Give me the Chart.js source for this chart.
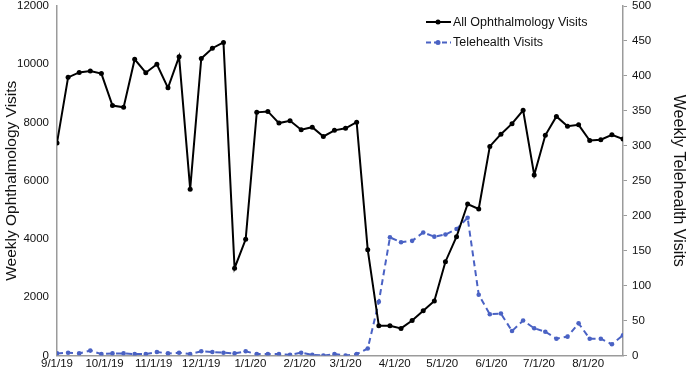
<!DOCTYPE html>
<html lang="en">
<head>
  <meta charset="UTF-8">
  <title>Weekly Ophthalmology and Telehealth Visits</title>
  <script src="https://cdn.jsdelivr.net/npm/chart.js"></script>
  <style>
    html, body { margin: 0; padding: 0; background: white; }
    #chartContainer { width: 688px; height: 372px; }
  </style>
</head>
<body>
  <div id="chartContainer">
    <canvas id="chart"></canvas>
  </div>

  <script>
    // weekly data, first week starts 9/1/19
    const firstWeek = '9/1/19';
    const ophthalmologyVisits = [
      7300, 9550, 9720, 9770, 9680, 8580, 8520, 10170, 9710, 10000,
      9190, 10260, 5710, 10200, 10550, 10750, 3000, 3990, 8350, 8380,
      7980, 8060, 7750, 7840, 7520, 7730, 7800, 8010, 3630, 1020,
      1020, 930, 1200, 1540, 1870, 3220, 4080, 5200, 5030, 7180,
      7600, 7960, 8420, 6200, 7560, 8210, 7870, 7920, 7380, 7410,
      7580, 7430
    ];
    const telehealthVisits = [
      3, 4, 3, 7, 2, 3, 3, 2, 2, 5,
      3, 4, 2, 6, 5, 4, 3, 6, 2, 2,
      2, 1, 4, 1, 0, 2, 0, 2, 10, 77,
      169, 162, 164, 176, 170, 173, 181, 197, 87, 59,
      60, 35, 50, 39, 34, 24, 27, 46, 24, 24,
      16, 29
    ];
    const monthTicks = ['9/1/19', '10/1/19', '11/1/19', '12/1/19', '1/1/20', '2/1/20',
                        '3/1/20', '4/1/20', '5/1/20', '6/1/20', '7/1/20', '8/1/20'];
    const legendLabels = ['All Ophthalmology Visits', 'Telehealth Visits'];

    const FONT = "'Liberation Sans', Arial, Helvetica, sans-serif";
    const BLUE = '#4a62c4';
    const AXIS_GREY = '#9b9b9b';

    function parseMDY(s) {
      const [m, d, y] = s.split('/').map(Number);
      return Date.UTC(2000 + y, m - 1, d);
    }
    const origin = parseMDY(firstWeek);
    const daysFromStart = s => Math.round((parseMDY(s) - origin) / 86400000);
    const tickDays = monthTicks.map(daysFromStart);
    const weekDay = i => i * 7;
    const lastDay = weekDay(ophthalmologyVisits.length - 1);

    const ophData = ophthalmologyVisits.map((v, i) => ({ x: weekDay(i), y: v }));
    const teleData = telehealthVisits.map((v, i) => ({ x: weekDay(i), y: v }));

    // legend drawn inside the plot, top right
    const innerLegend = {
      id: 'innerLegend',
      afterDraw(chart) {
        const { ctx, chartArea } = chart;
        const x0 = chartArea.right - 197;
        const rows = [
          { y: chartArea.top + 16, color: 'black', dash: [], label: legendLabels[0] },
          { y: chartArea.top + 36.5, color: BLUE, dash: [5, 3], label: legendLabels[1] }
        ];
        ctx.save();
        rows.forEach(r => {
          ctx.strokeStyle = r.color;
          ctx.fillStyle = r.color;
          ctx.lineWidth = 2;
          ctx.setLineDash(r.dash);
          ctx.beginPath();
          ctx.moveTo(x0, r.y);
          ctx.lineTo(x0 + 25, r.y);
          ctx.stroke();
          ctx.setLineDash([]);
          ctx.beginPath();
          ctx.arc(x0 + 12, r.y, 2.5, 0, Math.PI * 2);
          ctx.fill();
          ctx.fillStyle = '#111';
          ctx.font = '12.5px ' + FONT;
          ctx.textBaseline = 'middle';
          ctx.fillText(r.label, x0 + 27, r.y + 0.5);
        });
        ctx.restore();
      }
    };

    // keep the top tick labels from pushing the plot down
    const noTopPad = scale => { scale.paddingTop = 0; };

    const ctx = document.getElementById('chart').getContext('2d');
    const chart = new Chart(ctx, {
      type: 'line',
      data: {
        datasets: [
          {
            label: legendLabels[0],
            data: ophData,
            yAxisID: 'y',
            borderColor: 'black',
            backgroundColor: 'black',
            borderWidth: 2,
            pointRadius: 2.5,
            pointBorderWidth: 0,
            fill: false,
            tension: 0
          },
          {
            label: legendLabels[1],
            data: teleData,
            yAxisID: 'y2',
            borderColor: BLUE,
            backgroundColor: BLUE,
            borderWidth: 2,
            borderDash: [6, 4],
            pointRadius: 2.3,
            pointBorderWidth: 0,
            fill: false,
            tension: 0
          }
        ]
      },
      options: {
        responsive: true,
        maintainAspectRatio: false,
        animation: false,
        layout: { padding: { top: 6, left: 0, right: 0, bottom: 0 } },
        plugins: {
          legend: { display: false },
          tooltip: { enabled: false }
        },
        scales: {
          x: {
            type: 'linear',
            min: 0,
            max: lastDay,
            grid: { display: false, drawTicks: false },
            border: { display: true, color: AXIS_GREY, width: 1.5 },
            afterBuildTicks: scale => {
              scale.ticks = tickDays.map(v => ({ value: v }));
            },
            afterFit: scale => { scale.height = 16.5; },
            ticks: {
              autoSkip: false,
              maxRotation: 0,
              padding: 1,
              color: '#111',
              font: { family: FONT, size: 11.5 },
              callback: v => monthTicks[tickDays.indexOf(v)] ?? ''
            }
          },
          y: {
            position: 'left',
            min: 0,
            max: 12000,
            grid: { display: false, drawTicks: false },
            border: { display: true, color: AXIS_GREY, width: 1.5 },
            afterFit: scale => { scale.width = 57; noTopPad(scale); },
            ticks: {
              stepSize: 2000,
              padding: 8,
              color: '#111',
              font: { family: FONT, size: 11.5 },
              callback: v => String(v)
            },
            title: {
              display: true,
              text: 'Weekly Ophthalmology Visits',
              color: '#111',
              padding: { top: 2, bottom: 0 },
              font: { family: FONT, size: 15.5 }
            }
          },
          y2: {
            position: 'right',
            min: 0,
            max: 500,
            grid: { display: true, drawOnChartArea: false, drawTicks: true, tickLength: 4, color: AXIS_GREY },
            border: { display: true, color: AXIS_GREY, width: 1.5 },
            afterFit: scale => { scale.width = 65; noTopPad(scale); },
            ticks: {
              stepSize: 50,
              padding: 5,
              color: '#111',
              font: { family: FONT, size: 11.5 },
              callback: v => String(v)
            },
            title: {
              display: true,
              text: 'Weekly Telehealth Visits',
              color: '#111',
              padding: { top: 0, bottom: 1 },
              font: { family: FONT, size: 16 }
            }
          }
        }
      },
      plugins: [innerLegend]
    });
  </script>
</body>
</html>
